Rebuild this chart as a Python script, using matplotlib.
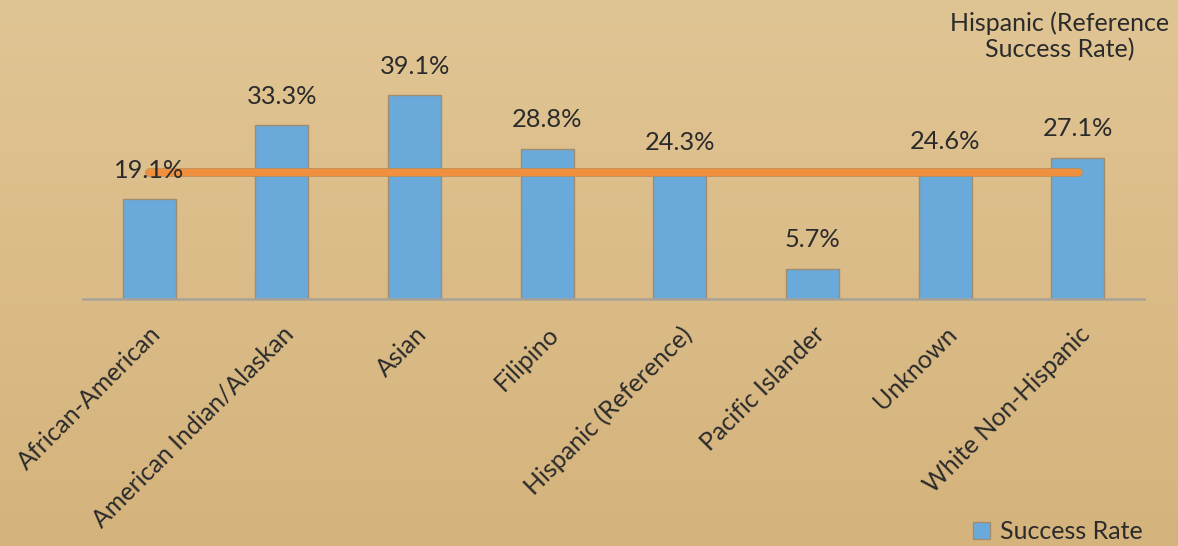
import numpy as np
import matplotlib
matplotlib.use("Agg")
import matplotlib.pyplot as plt
import matplotlib.patheffects as pe
from matplotlib.patches import Patch

categories = ["African-American", "American Indian/Alaskan", "Asian", "Filipino",
              "Hispanic (Reference)", "Pacific Islander", "Unknown", "White Non-Hispanic"]
success_rate = [19.1, 33.3, 39.1, 28.8, 24.3, 5.7, 24.6, 27.1]
reference_rate = 24.3
value_labels = ["19.1%", "33.3%", "39.1%", "28.8%", "24.3%", "5.7%", "24.6%", "27.1%"]

plt.rcParams['font.family'] = ['Lato', 'DejaVu Sans']

W, H = 1178, 546
fig = plt.figure(figsize=(W / 100, H / 100), dpi=100)

# background gradient
bg = fig.add_axes([0, 0, 1, 1], zorder=-10)
top = np.array([224, 197, 148]) / 255.0
bot = np.array([213, 179, 124]) / 255.0
t = np.linspace(0, 1, 256)[:, None]
grad = top[None, :] * (1 - t) + bot[None, :] * t
bg.imshow(grad[:, None, :], aspect='auto', extent=[0, 1, 0, 1])
bg.axis('off')

ax = fig.add_axes([83 / W, 1 - 298.5 / H, 1061 / W, (298.5 - 64.5) / H])
ax.patch.set_alpha(0)
x = np.arange(len(categories))
ax.bar(x, success_rate, width=0.40, color='#6AAADB', edgecolor='#A08C6E', linewidth=1.0, zorder=2)

ax.plot(x, [reference_rate] * len(x), color='#F0903F', linewidth=5.2, solid_capstyle='round', zorder=3,
        path_effects=[pe.Stroke(linewidth=6.2, foreground='#B98C56'), pe.Normal()])

for xi, v, lab in zip(x, success_rate, value_labels):
    ax.text(xi, v + 3.4, lab, ha='center', va='bottom', fontsize=18.3, color='#2B2B2B', zorder=5)

ax.set_xlim(-0.5, 7.5)
ax.set_ylim(0, 45)
ax.set_yticks([])
for s in ['top', 'right', 'left']:
    ax.spines[s].set_visible(False)
ax.spines['bottom'].set_color('#A9A297')
ax.spines['bottom'].set_linewidth(1.8)
ax.set_xticks(x)
ax.set_xticklabels(categories, rotation=45, ha='right', rotation_mode='anchor', fontsize=18, color='#2B2B2B')
ax.tick_params(axis='x', length=0, pad=17)

fig.text(1060 / W, 1 - 36 / H, "Hispanic (Reference\nSuccess Rate)", ha='center', va='center',
         fontsize=18, color='#2B2B2B', linespacing=1.15)

handles = [Patch(facecolor='#6AAADB', edgecolor='#A08C6E', label='Success Rate')]
fig.legend(handles=handles, loc='lower right', bbox_to_anchor=(1143 / W, 3 / H), frameon=False,
           fontsize=18, handlelength=0.7, handleheight=0.7, handletextpad=0.4, labelcolor='#2B2B2B',
           borderpad=0, borderaxespad=0)

fig.savefig("out.png", dpi=100)
